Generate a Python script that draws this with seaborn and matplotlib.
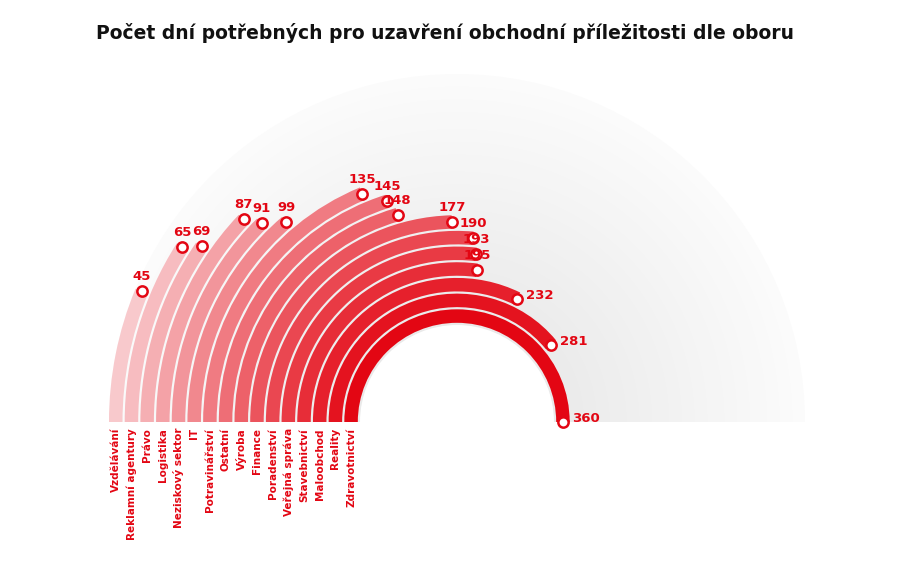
import numpy as np
import matplotlib.pyplot as plt
import seaborn as sns
from matplotlib.patches import Wedge, Circle

categories = ["Vzdělávání", "Reklamní agentury", "Právo", "Logistika", "Neziskový sektor", "IT",
              "Potravinářství", "Ostatní", "Výroba", "Finance", "Poradenství", "Veřejná správa",
              "Stavebnictví", "Maloobchod", "Reality", "Zdravotnictví"]
days = [45, 65, 69, 87, 91, 99, 135, 145, 148, 177, 190, 193, 195, 232, 281, 360]

sns.set_theme(style="white")
colors = sns.blend_palette(["#f8c9cc", "#e30613"], n_colors=len(days))

fig = plt.figure(figsize=(9.12, 5.79), dpi=100)
ax = fig.add_axes([0, 0, 1, 1])
ax.set_xlim(0, 912)
ax.set_ylim(0, 579)
ax.set_aspect("equal")
ax.axis("off")

cx, cy = 457, 157
r_out, r_in = 348, 97
step = (r_out - r_in) / len(days)
width = 13.5

# grey radial background
for r in np.linspace(r_out, r_in, 60):
    t = (r_out - r) / (r_out - r_in)
    g = 0.985 - 0.07 * t
    ax.add_patch(Wedge((cx, cy), r, 0, 180, facecolor=(g, g, g), edgecolor="none", zorder=0))
ax.add_patch(Wedge((cx, cy), r_in, 0, 180, facecolor="white", edgecolor="none", zorder=1))

red = "#e30613"
for i, (cat, v, c) in enumerate(zip(categories, days, colors)):
    ro = r_out - i * step
    ax.add_patch(Wedge((cx, cy), ro, 180 - v / 2, 180, width=width, facecolor=c,
                       edgecolor="none", zorder=2))
    rc = ro - width / 2
    th = np.deg2rad(180 - v / 2)
    mx, my = cx + rc * np.cos(th), cy + rc * np.sin(th)
    ax.scatter([mx], [my], s=55, facecolor="white", edgecolor=red, linewidth=1.8, zorder=4)
    if 180 - v / 2 > 80:
        ax.text(mx, my + 8, str(v), ha="center", va="bottom", fontsize=9.5,
                fontweight="bold", color=red, zorder=5)
    else:
        ax.text(mx + 9, my + 3, str(v), ha="left", va="center", fontsize=9.5,
                fontweight="bold", color=red, zorder=5)
    ax.text(cx - rc, cy - 6, cat, rotation=90, ha="center", va="top", fontsize=7.5,
            fontweight="bold", color=red)

ax.text(445, 546, "Počet dní potřebných pro uzavření obchodní příležitosti dle oboru",
        ha="center", va="center", fontsize=13.5, fontweight="bold", color="#111111")

fig.savefig("out.png", dpi=100)
